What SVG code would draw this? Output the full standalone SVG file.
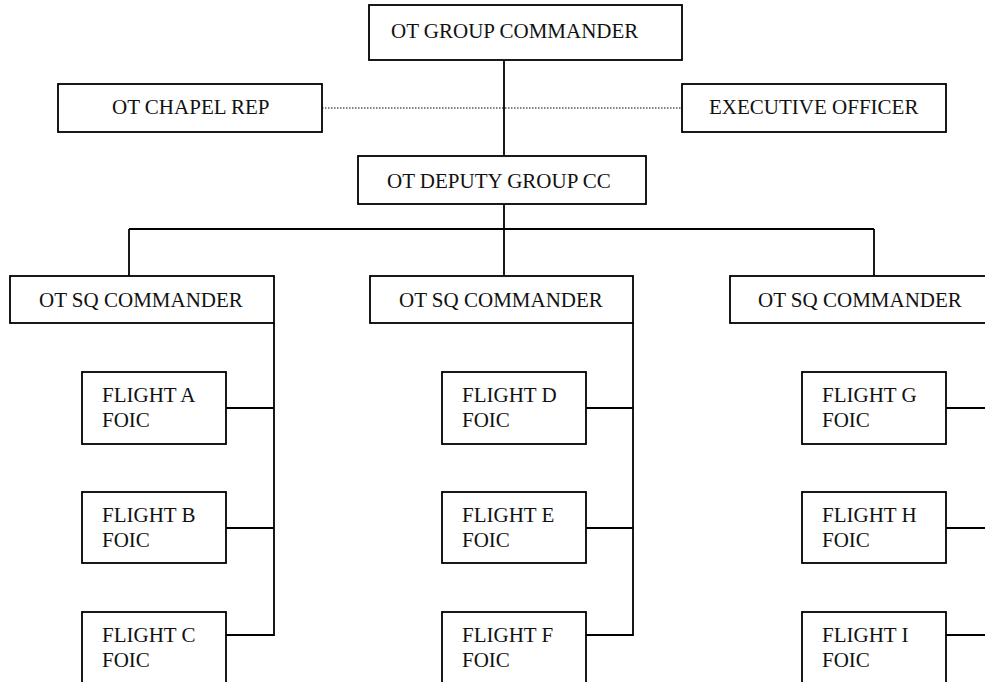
<svg xmlns="http://www.w3.org/2000/svg" width="985" height="682" viewBox="0 0 985 682">
<style>
.box{fill:#fff;stroke:#000;stroke-width:1.8}
.ln{fill:none;stroke:#000;stroke-width:1.8}
.dot{fill:none;stroke:#000;stroke-width:1;stroke-dasharray:1.5 1.5}
text{font-family:"Liberation Serif","Times New Roman",serif;font-size:21px;fill:#111}
</style>
<rect width="985" height="682" fill="#fff"/>
<g id="connectors">
<line class="dot" x1="322" y1="108" x2="682" y2="108"/>
<line class="ln" x1="504" y1="60" x2="504" y2="156"/>
<line class="ln" x1="504" y1="204" x2="504" y2="229"/>
<line class="ln" x1="129" y1="229" x2="874" y2="229"/>
<line class="ln" x1="129" y1="229" x2="129" y2="276"/>
<line class="ln" x1="504" y1="229" x2="504" y2="276"/>
<line class="ln" x1="874" y1="229" x2="874" y2="276"/>
<polyline class="ln" points="274,323 274,635 226,635"/>
<line class="ln" x1="226" y1="408" x2="274" y2="408"/>
<line class="ln" x1="226" y1="528" x2="274" y2="528"/>
<polyline class="ln" points="633,323 633,635 586,635"/>
<line class="ln" x1="586" y1="408" x2="633" y2="408"/>
<line class="ln" x1="586" y1="528" x2="633" y2="528"/>
<line class="ln" x1="946" y1="408" x2="985" y2="408"/>
<line class="ln" x1="946" y1="528" x2="985" y2="528"/>
<line class="ln" x1="946" y1="635" x2="985" y2="635"/>
</g>
<g id="group-commander"><rect class="box" x="369" y="5" width="313" height="55"/><text x="391" y="38">OT GROUP COMMANDER</text></g>
<g id="chapel-rep"><rect class="box" x="58" y="84" width="264" height="48"/><text x="112" y="114">OT CHAPEL REP</text></g>
<g id="executive-officer"><rect class="box" x="682" y="84" width="264" height="48"/><text x="709" y="114">EXECUTIVE OFFICER</text></g>
<g id="deputy"><rect class="box" x="358" y="156" width="288" height="48"/><text x="387" y="188">OT DEPUTY GROUP CC</text></g>
<g id="sq1"><rect class="box" x="10" y="276" width="264" height="47"/><text x="39" y="307">OT SQ COMMANDER</text></g>
<g id="sq2"><rect class="box" x="370" y="276" width="263" height="47"/><text x="399" y="307">OT SQ COMMANDER</text></g>
<g id="sq3"><rect class="box" x="730" y="276" width="270" height="47"/><text x="758" y="307">OT SQ COMMANDER</text></g>
<g id="flight-a"><rect class="box" x="82" y="372" width="144" height="72"/><text x="102" y="402">FLIGHT A</text><text x="102" y="427">FOIC</text></g>
<g id="flight-b"><rect class="box" x="82" y="492" width="144" height="71"/><text x="102" y="522">FLIGHT B</text><text x="102" y="547">FOIC</text></g>
<g id="flight-c"><rect class="box" x="82" y="612" width="144" height="80"/><text x="102" y="642">FLIGHT C</text><text x="102" y="667">FOIC</text></g>
<g id="flight-d"><rect class="box" x="442" y="372" width="144" height="72"/><text x="462" y="402">FLIGHT D</text><text x="462" y="427">FOIC</text></g>
<g id="flight-e"><rect class="box" x="442" y="492" width="144" height="71"/><text x="462" y="522">FLIGHT E</text><text x="462" y="547">FOIC</text></g>
<g id="flight-f"><rect class="box" x="442" y="612" width="144" height="80"/><text x="462" y="642">FLIGHT F</text><text x="462" y="667">FOIC</text></g>
<g id="flight-g"><rect class="box" x="802" y="372" width="144" height="72"/><text x="822" y="402">FLIGHT G</text><text x="822" y="427">FOIC</text></g>
<g id="flight-h"><rect class="box" x="802" y="492" width="144" height="71"/><text x="822" y="522">FLIGHT H</text><text x="822" y="547">FOIC</text></g>
<g id="flight-i"><rect class="box" x="802" y="612" width="144" height="80"/><text x="822" y="642">FLIGHT I</text><text x="822" y="667">FOIC</text></g>
</svg>
